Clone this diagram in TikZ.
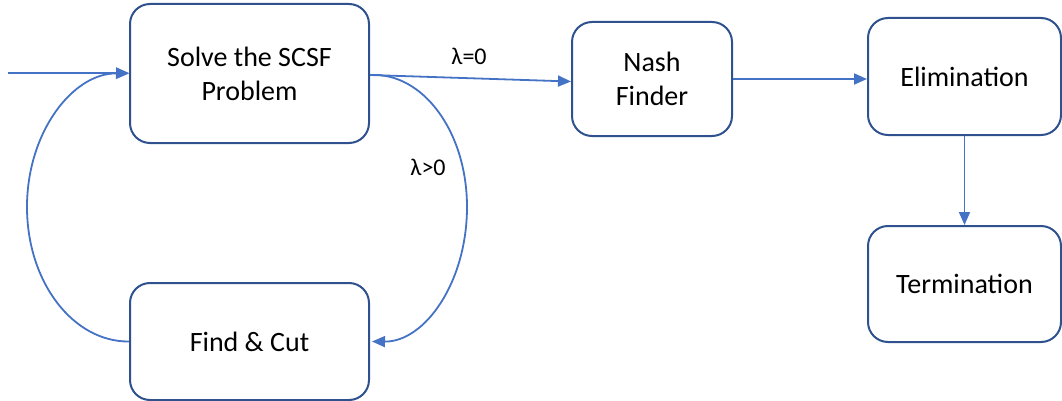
\documentclass[tikz,border=0pt]{standalone}
\usepackage{fontspec}
\setmainfont{Carlito}
\usetikzlibrary{arrows.meta}
\definecolor{boxline}{HTML}{2F528F}
\definecolor{flow}{HTML}{4472C4}
\begin{document}
\begin{tikzpicture}[x=1pt,y=-1pt,
  stage/.style={draw=boxline, line width=2pt, rounded corners=20pt, fill=white,
    align=center, inner sep=0pt, font=\fontsize{28}{34}\selectfont},
  flowline/.style={draw=flow, line width=1.8pt, -{Triangle[length=13pt,width=11pt]}},
  tag/.style={font=\fontsize{24}{28}\selectfont}]
\useasboundingbox (0,0) rectangle (1062,401);

% process stages
\node[stage, minimum width=239pt, minimum height=139pt] (solve) at (249.5,73.5) {Solve the SCSF\\Problem};
\node[stage, minimum width=239pt, minimum height=117pt] (cut) at (249.5,341.5) {Find \& Cut};
\node[stage, minimum width=160pt, minimum height=114pt] (nash) at (652,79) {Nash\\Finder};
\node[stage, minimum width=193pt, minimum height=117pt] (elim) at (964.5,76.5) {Elimination};
\node[stage, minimum width=193pt, minimum height=116pt] (term) at (964.5,284) {Termination};

% entry point and the outer points of the two loops
\coordinate (start) at (8,73);
\coordinate (rightmost) at (467,207);
\coordinate (leftmost) at (27,207);

% connectors
\draw[flowline] (start) -- (solve.west |- start);
\draw[flowline] ([yshift=-1.5pt]solve.east) -- ([yshift=-2.5pt]nash.west);
\draw[flowline] (nash.east) -- (elim.west |- nash.east);
\draw[flowline] (elim.south) -- (term.north);
\draw[flowline] ([yshift=-1.5pt]solve.east) .. controls (423,72) and (467,132) .. (rightmost)
  .. controls (467,282) and (425,342) .. ([xshift=2pt]cut.east);
\draw[flowline] (cut.west) .. controls (73,342) and (27,282) .. (leftmost)
  .. controls (27,132) and (73,73) .. (solve.west);

% branch labels
\node[tag] (zero) at (469,56) {λ=0};
\node[tag] (pos) at (428,167) {λ>0};
\end{tikzpicture}
\end{document}
